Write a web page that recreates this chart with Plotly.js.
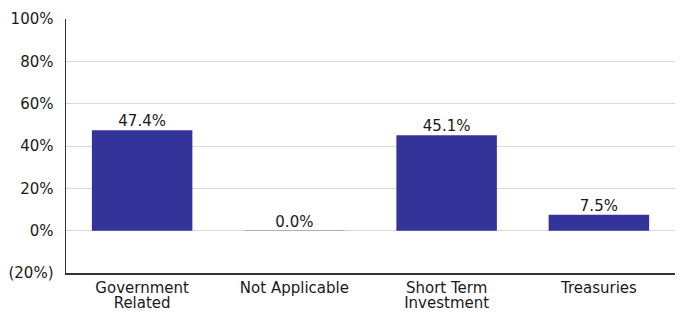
<!DOCTYPE html>
<html>
<head>
<meta charset="utf-8">
<script src="https://cdn.plot.ly/plotly-3.0.1.min.js"></script>
<style>html,body{margin:0;padding:0;background:#fff;}#chart{width:686px;height:314px;}</style>
</head>
<body>
<div id="chart"></div>
<script>
const categories = ["Government<br>Related", "Not Applicable", "Short Term<br>Investment", "Treasuries"];
const values = [47.4, 0.02, 45.1, 7.5];
const yTickVals = [-20, 0, 20, 40, 60, 80, 100];
const yTickText = ["(20%)", "0%", "20%", "40%", "60%", "80%", "100%"];

const FONT = "DejaVu Sans, Liberation Sans, Arial, sans-serif";

const trace = {
  type: "bar",
  x: categories,
  y: values,
  marker: {color: "#333399"},
  texttemplate: "%{y:.1f}%",
  textposition: "outside",
  cliponaxis: false,
  textfont: {family: FONT, size: 15, color: "#1a1a1a"},
  hoverinfo: "none"
};

const layout = {
  width: 686, height: 314,
  margin: {l: 66, r: 11, t: 19, b: 41},
  paper_bgcolor: "#fff", plot_bgcolor: "#fff",
  bargap: 0.34,
  showlegend: false,
  font: {family: FONT, size: 15, color: "#1a1a1a"},
  xaxis: {
    type: "category",
    showline: true, linecolor: "#333", linewidth: 1.5,
    ticks: "", showgrid: false,
    tickfont: {family: FONT, size: 15, color: "#1a1a1a"},
    automargin: false
  },
  yaxis: {
    range: [-20, 100],
    tickvals: yTickVals, ticktext: yTickText,
    showline: true, linecolor: "#333", linewidth: 1.5,
    showgrid: true, gridcolor: "#d9d9d9", gridwidth: 1,
    zeroline: true, zerolinecolor: "#d9d9d9", zerolinewidth: 1.5,
    ticks: "", ticklabelstandoff: 8,
    tickfont: {family: FONT, size: 15, color: "#1a1a1a"},
    automargin: false
  }
};

Plotly.newPlot("chart", [trace], layout, {displayModeBar: false, staticPlot: true}).then(function (gd) {
  // tighten the line spacing of two-line category labels
  gd.querySelectorAll(".xtick text").forEach(function (t) {
    const lines = t.querySelectorAll("tspan.line");
    lines.forEach(function (ln, i) { if (i > 0) ln.setAttribute("dy", "1.0em"); });
  });
  // sit the value labels a little closer to the bar tops
  gd.querySelectorAll("text.bartext").forEach(function (t) {
    const tr = t.getAttribute("transform") || "";
    t.setAttribute("transform", "translate(0,3) " + tr);
  });
});
</script>
</body>
</html>
